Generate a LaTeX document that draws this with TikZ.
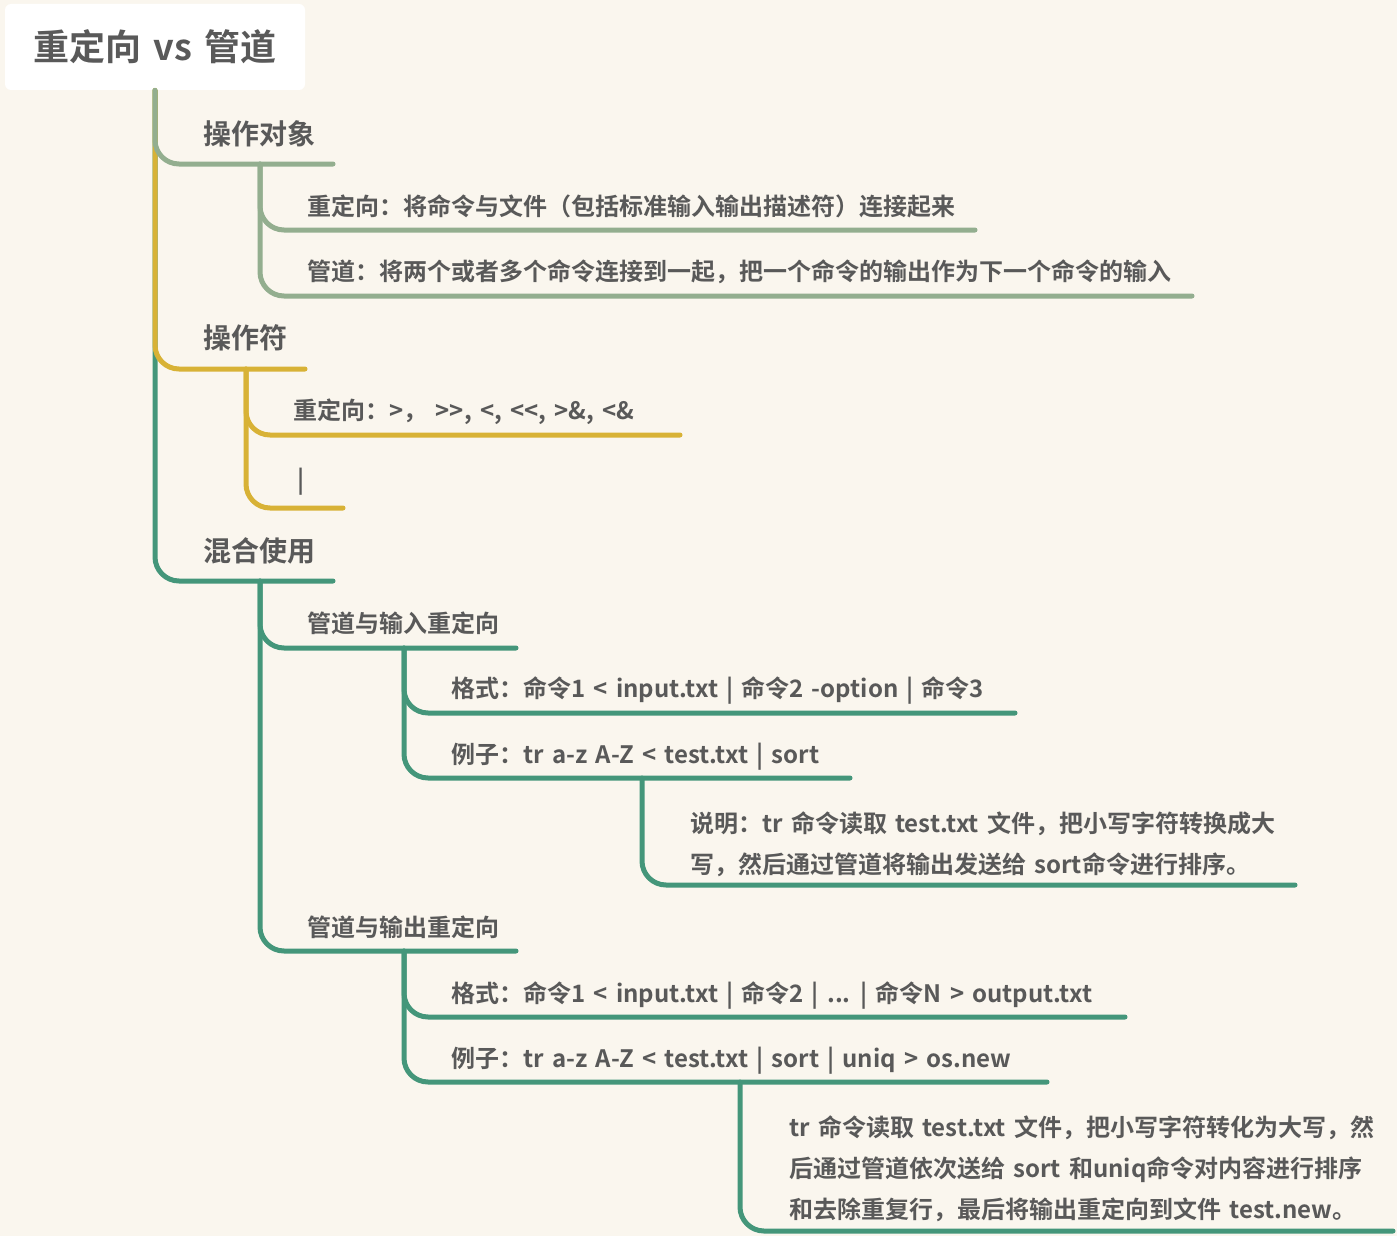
\documentclass[tikz,border=0pt]{standalone}
\usepackage{fontspec}
\setmainfont{Noto Sans CJK SC}[BoldFont={Noto Sans CJK SC Bold},WordSpace=1.5]
\usetikzlibrary{positioning}
\definecolor{Paper}{HTML}{FAF6EE}
\definecolor{Ink}{HTML}{595959}
\definecolor{Sage}{HTML}{93AE8F}
\definecolor{Gold}{HTML}{D8B236}
\definecolor{Teal}{HTML}{44967A}

\begin{document}
\begin{tikzpicture}[x=0.5pt,y=-0.5pt,
  branch/.style={line width=2.5pt,line cap=round,rounded corners=12pt},
  leaf/.style={anchor=west,inner sep=0pt,text=Ink,align=left,
    text height=0.9em,text depth=0.1em,font=\bfseries\fontsize{12}{20.5}\selectfont},
  topic/.style={leaf,font=\bfseries\fontsize{14}{16}\selectfont},
  rootbox/.style={fill=white,rounded corners=3pt,inner sep=0pt,minimum width=150pt,
    minimum height=43pt,text=Ink,font=\bfseries\fontsize{18}{20}\selectfont}]
\fill[Paper] (0,0) rectangle (1397,1236);
\useasboundingbox (0,0) rectangle (1397,1236);
\node[rootbox] (root) at (155,47) {重定向 vs 管道};
% first level
\node[topic] (obj) at (203,136) {操作对象};
\node[topic] (op) at (203,340) {操作符};
\node[topic] (mix) at (203,553) {混合使用};
\coordinate (obj-e) at (333,164);
\coordinate (op-e) at (305,369);
\coordinate (mix-e) at (333,581);
\draw[branch,Teal] (root.south) |- (mix-e);
\draw[branch,Gold] (root.south) |- (op-e);
\draw[branch,Sage] (root.south) |- (obj-e);
% operands
\coordinate (obj-t) at (260,164);
\node[leaf] (obj-a) at (307,207) {重定向：将命令与文件（包括标准输入输出描述符）连接起来};
\node[leaf] (obj-b) at (307,272) {管道：将两个或者多个命令连接到一起，把一个命令的输出作为下一个命令的输入};
\coordinate (obj-a-e) at (975,230);
\coordinate (obj-b-e) at (1192,296);
\draw[branch,Sage] (obj-t) |- (obj-a-e);
\draw[branch,Sage] (obj-t) |- (obj-b-e);
% operators
\coordinate (op-t) at (246,369);
\node[leaf] (op-a) at (293,411) {重定向：>， >{}>, <, <{}<, >\&, <\&};
\node[leaf] (op-b) at (297,480) {|};
\coordinate (op-a-e) at (680,435);
\coordinate (op-b-e) at (343,508);
\draw[branch,Gold] (op-t) |- (op-a-e);
\draw[branch,Gold] (op-t) |- (op-b-e);
% mixed use
\coordinate (mix-t) at (260,581);
\node[leaf] (in) at (307,624) {管道与输入重定向};
\node[leaf] (out) at (307,928) {管道与输出重定向};
\coordinate (in-e) at (516,648);
\coordinate (out-e) at (516,951);
\draw[branch,Teal] (mix-t) |- (in-e);
\draw[branch,Teal] (mix-t) |- (out-e);
% pipe with input redirection
\coordinate (in-t) at (404,648);
\node[leaf] (in-fmt) at (451,689) {格式：命令1 < input.txt | 命令2 -option | 命令3};
\node[leaf] (in-ex) at (451,755) {例子：tr a-z A-Z < test.txt | sort};
\coordinate (in-fmt-e) at (1015,713);
\coordinate (in-ex-e) at (850,778);
\draw[branch,Teal] (in-t) |- (in-fmt-e);
\draw[branch,Teal] (in-t) |- (in-ex-e);
\coordinate (in-ex-t) at (642,778);
\node[leaf,text height=,text depth=] (in-note) at (690,844) {说明：tr 命令读取 test.txt 文件，把小写字符转换成大\\写，然后通过管道将输出发送给 sort命令进行排序。};
\coordinate (in-note-e) at (1295,885);
\draw[branch,Teal] (in-ex-t) |- (in-note-e);
% pipe with output redirection
\coordinate (out-t) at (404,951);
\node[leaf] (out-fmt) at (451,994) {格式：命令1 < input.txt | 命令2 | ... | 命令N > output.txt};
\node[leaf] (out-ex) at (451,1059) {例子：tr a-z A-Z < test.txt | sort | uniq > os.new};
\coordinate (out-fmt-e) at (1125,1017);
\coordinate (out-ex-e) at (1047,1082);
\draw[branch,Teal] (out-t) |- (out-fmt-e);
\draw[branch,Teal] (out-t) |- (out-ex-e);
\coordinate (out-ex-t) at (740,1082);
\node[leaf,text height=,text depth=] (out-note) at (789,1169) {tr 命令读取 test.txt 文件，把小写字符转化为大写，然\\后通过管道依次送给 sort 和uniq命令对内容进行排序\\和去除重复行，最后将输出重定向到文件 test.new。};
\coordinate (out-note-e) at (1393,1231);
\draw[branch,Teal] (out-ex-t) |- (out-note-e);
\end{tikzpicture}
\end{document}
